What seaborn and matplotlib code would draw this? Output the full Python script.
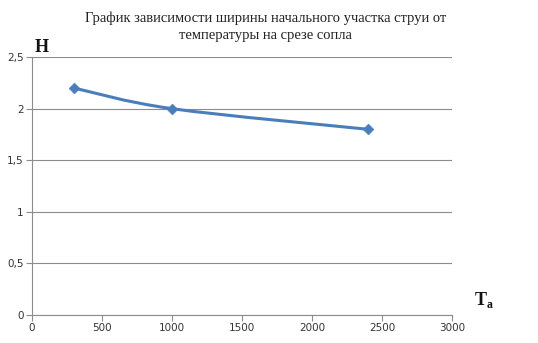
import matplotlib
matplotlib.use("Agg")
import matplotlib.pyplot as plt
import seaborn as sns
import pandas as pd
import numpy as np
from matplotlib.path import Path
from matplotlib.patches import PathPatch
from matplotlib.ticker import FuncFormatter

temps = [300, 1000, 2400]
widths = [2.2, 2.0, 1.8]
title = "График зависимости ширины начального участка струи от\nтемпературы на срезе сопла"
xticks = [0, 500, 1000, 1500, 2000, 2500, 3000]
yticks = [0, 0.5, 1, 1.5, 2, 2.5]

sns.set_theme(style="white")
plt.rcParams['font.family'] = ['DejaVu Sans']

fig = plt.figure(figsize=(5.38, 3.43), dpi=100)
ax = fig.add_axes([0.0595, 0.0816, 0.7805, 0.752])

df = pd.DataFrame({"T": temps, "H": widths})
color = "#4a7ebb"

# smooth curve (Excel-like smoothing) via bezier path in data coords
x = np.array(temps, float); y = np.array(widths, float)
verts = [(x[0], y[0])]; codes = [Path.MOVETO]
n = len(x)
for i in range(n - 1):
    p0 = (x[i-1], y[i-1]) if i > 0 else (x[i], y[i])
    p1 = (x[i], y[i]); p2 = (x[i+1], y[i+1])
    p3 = (x[i+2], y[i+2]) if i + 2 < n else (x[i+1], y[i+1])
    c1 = (p1[0] + (p2[0]-p0[0])/6, p1[1] + (p2[1]-p0[1])/6)
    c2 = (p2[0] - (p3[0]-p1[0])/6, p2[1] - (p3[1]-p1[1])/6)
    verts += [c1, c2, p2]; codes += [Path.CURVE4]*3
ax.add_patch(PathPatch(Path(verts, codes), fill=False, edgecolor=color, lw=2.2, zorder=3))

sns.scatterplot(data=df, x="T", y="H", marker="D", s=30, color=color,
                edgecolor=color, ax=ax, zorder=4, legend=False)

ax.set_xlim(0, 3000)
ax.set_ylim(0, 2.5)
ax.set_xticks(xticks)
ax.set_yticks(yticks)
fmt = FuncFormatter(lambda v, p: (f"{v:g}").replace(".", ","))
ax.yaxis.set_major_formatter(fmt)
ax.xaxis.set_major_formatter(FuncFormatter(lambda v, p: f"{v:g}"))
ax.grid(axis="y", color="#8c8c8c", lw=0.8)
ax.set_axisbelow(True)
for s in ["top", "right"]:
    ax.spines[s].set_visible(False)
for s in ["left", "bottom"]:
    ax.spines[s].set_color("#8c8c8c")
    ax.spines[s].set_linewidth(0.8)
ax.tick_params(axis="both", which="major", length=4, width=0.8, color="#8c8c8c",
               labelsize=7.5, labelcolor="#333333", direction="out", bottom=True, left=True, pad=2)
ax.set_xlabel(""); ax.set_ylabel("")

fig.text(0.493, 0.922, title, ha="center", va="center", fontsize=10.5,
         family="Liberation Serif", color="#222222", linespacing=1.4)
fig.text(0.064, 0.862, "H", fontsize=13, fontweight="bold", family="Liberation Serif",
         ha="left", va="center", color="#111111")
fig.text(0.905, 0.125, "T", fontsize=13, fontweight="bold", family="Liberation Serif",
         ha="right", va="center", color="#111111")
fig.text(0.905, 0.112, "а", fontsize=8.5, fontweight="bold", family="Liberation Serif",
         ha="left", va="center", color="#111111")

fig.savefig("out.png", dpi=100)
